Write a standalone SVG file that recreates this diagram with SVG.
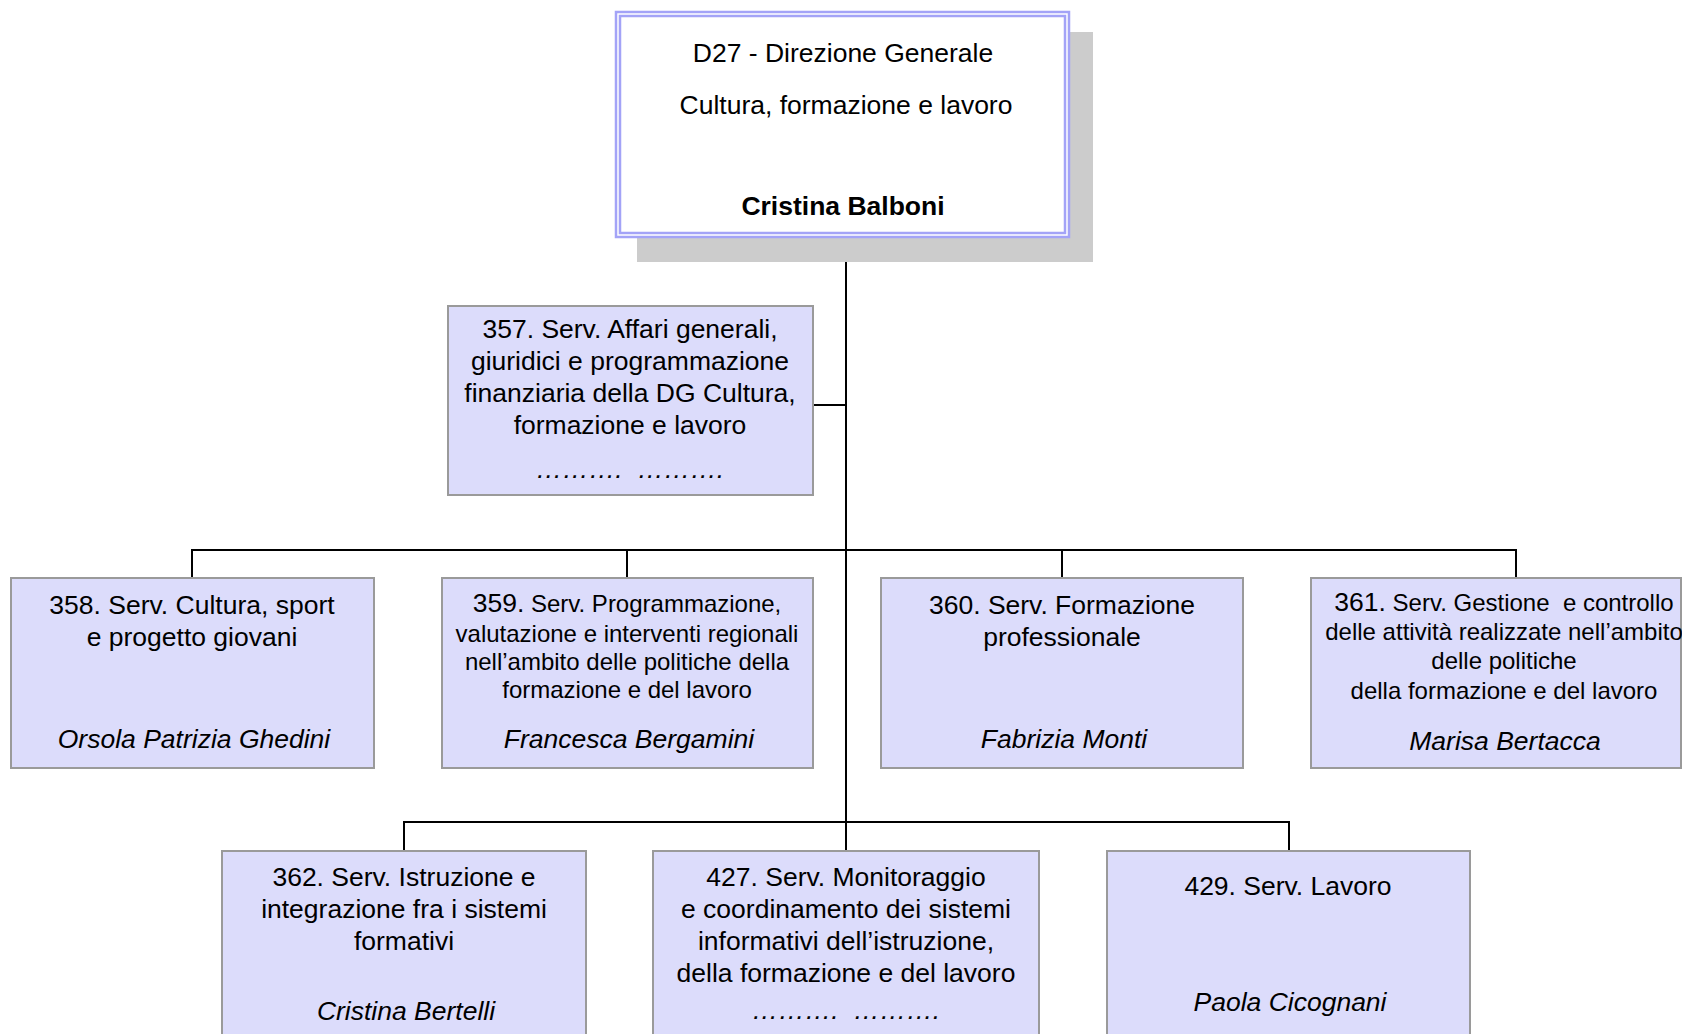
<svg xmlns="http://www.w3.org/2000/svg" width="1682" height="1034" viewBox="0 0 1682 1034">
<style>
text{font-family:"Liberation Sans",Arial,sans-serif;fill:#000;text-anchor:middle}
.t{font-size:26.5px}
.s{font-size:24px}
.n{font-size:26.5px;font-style:italic}
.b{font-size:26.5px;font-weight:bold}
.box{fill:#dcdcfb;stroke:#9a9a9a;stroke-width:2}
.ln{stroke:#000;stroke-width:2;fill:none}
</style>
<rect width="1682" height="1034" fill="#fff"/>
<g id="connectors">
<line class="ln" x1="846" y1="237" x2="846" y2="851"/>
<line class="ln" x1="813" y1="405" x2="846" y2="405"/>
<polyline class="ln" points="192,578 192,550 1516,550 1516,578"/>
<line class="ln" x1="627" y1="550" x2="627" y2="578"/>
<line class="ln" x1="1062" y1="550" x2="1062" y2="578"/>
<polyline class="ln" points="404,851 404,822 1289,822 1289,851"/>
</g>
<g id="d27">
<rect x="637" y="32" width="456" height="230" fill="#cccccc"/>
<rect x="616" y="12" width="453" height="225" fill="#fff" stroke="#a3a3f7" stroke-width="2.5"/>
<rect x="620" y="16" width="445" height="217" fill="none" stroke="#a3a3f7" stroke-width="2.5"/>
<text class="t" x="843" y="62">D27 - Direzione Generale</text>
<text class="t" x="846" y="114">Cultura, formazione e lavoro</text>
<text class="b" x="843" y="215">Cristina Balboni</text>
</g>
<g id="s357">
<rect class="box" x="448" y="306" width="365" height="189"/>
<text class="t" x="630" y="338">357. Serv. Affari generali,</text>
<text class="t" x="630" y="370">giuridici e programmazione</text>
<text class="t" x="630" y="402">finanziaria della DG Cultura,</text>
<text class="t" x="630" y="434">formazione e lavoro</text>
<text class="n" x="630" y="478" xml:space="preserve">……….  ……….</text>
</g>
<g id="s358">
<rect class="box" x="11" y="578" width="363" height="190"/>
<text class="t" x="192" y="614">358. Serv. Cultura, sport</text>
<text class="t" x="192" y="646">e progetto giovani</text>
<text class="n" x="194" y="748">Orsola Patrizia Ghedini</text>
</g>
<g id="s359">
<rect class="box" x="442" y="578" width="371" height="190"/>
<text class="s" x="627" y="612"><tspan font-size="26.5px">359.</tspan> Serv. Programmazione,</text>
<text class="s" x="627" y="642">valutazione e interventi regionali</text>
<text class="s" x="627" y="670">nell’ambito delle politiche della</text>
<text class="s" x="627" y="698">formazione e del lavoro</text>
<text class="n" x="629" y="748">Francesca Bergamini</text>
</g>
<g id="s360">
<rect class="box" x="881" y="578" width="362" height="190"/>
<text class="t" x="1062" y="614">360. Serv. Formazione</text>
<text class="t" x="1062" y="646">professionale</text>
<text class="n" x="1064" y="748">Fabrizia Monti</text>
</g>
<g id="s361">
<rect class="box" x="1311" y="578" width="370" height="190"/>
<text class="s" x="1504" y="611" xml:space="preserve"><tspan font-size="26.5px">361.</tspan> Serv. Gestione  e controllo</text>
<text class="s" x="1504" y="640">delle attività realizzate nell’ambito</text>
<text class="s" x="1504" y="669">delle politiche</text>
<text class="s" x="1504" y="699">della formazione e del lavoro</text>
<text class="n" x="1505" y="750">Marisa Bertacca</text>
</g>
<g id="s362">
<rect class="box" x="222" y="851" width="364" height="200"/>
<text class="t" x="404" y="886">362. Serv. Istruzione e</text>
<text class="t" x="404" y="918">integrazione fra i sistemi</text>
<text class="t" x="404" y="950">formativi</text>
<text class="n" x="406" y="1020">Cristina Bertelli</text>
</g>
<g id="s427">
<rect class="box" x="653" y="851" width="386" height="200"/>
<text class="t" x="846" y="886">427. Serv. Monitoraggio</text>
<text class="t" x="846" y="918">e coordinamento dei sistemi</text>
<text class="t" x="846" y="950">informativi dell’istruzione,</text>
<text class="t" x="846" y="982">della formazione e del lavoro</text>
<text class="n" x="846" y="1019" xml:space="preserve">……….  ……….</text>
</g>
<g id="s429">
<rect class="box" x="1107" y="851" width="363" height="200"/>
<text class="t" x="1288" y="895">429. Serv. Lavoro</text>
<text class="n" x="1290" y="1011">Paola Cicognani</text>
</g>
</svg>
